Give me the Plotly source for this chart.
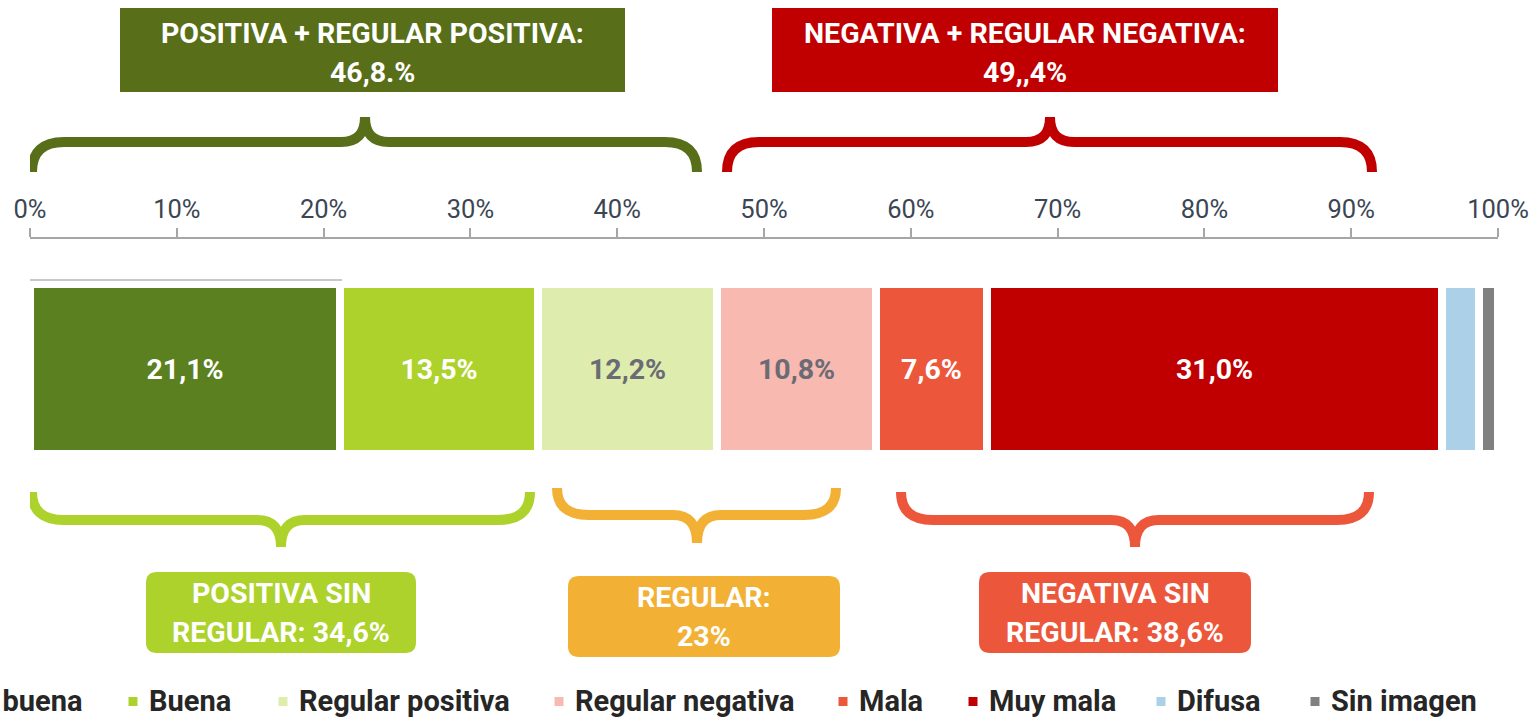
import plotly.graph_objects as go

# ---------------- data ----------------
categories = ["Muy buena", "Buena", "Regular positiva", "Regular negativa",
              "Mala", "Muy mala", "Difusa", "Sin imagen"]
values = [21.1, 13.5, 12.2, 10.8, 7.6, 31.0, 2.5, 1.3]
show_label = [True, True, True, True, True, True, False, False]
tick_vals = [0, 10, 20, 30, 40, 50, 60, 70, 80, 90, 100]
tick_text = [f"{v}%" for v in tick_vals]

group_top_lines = [["POSITIVA + REGULAR POSITIVA:", "46,8.%"],
                   ["NEGATIVA + REGULAR NEGATIVA:", "49,,4%"]]
group_bottom_lines = [["POSITIVA SIN", "REGULAR: 34,6%"],
                      ["REGULAR:", "23%"],
                      ["NEGATIVA SIN", "REGULAR: 38,6%"]]

# ---------------- styles ----------------
bar_colors = ["#5B8020", "#ADD22B", "#DEEDAD", "#F7B9B0",
              "#EC573C", "#C00000", "#ABD0E8", "#808080"]
label_colors = ["white", "white", "#6B6B75", "#6B6B75",
                "white", "white", "white", "white"]
FONT = "Roboto, sans-serif"
W, H = 1534, 717
L_PX, R_PX = 30, 1498
PX_PER_PCT = (R_PX - L_PX) / 100.0


def X(px):
    return (px - L_PX) / PX_PER_PCT


fig = go.Figure()
for name, v, c, lc, sl in zip(categories, values, bar_colors, label_colors, show_label):
    txt = (f"{v:.1f}".replace(".", ",") + "%") if sl else ""
    fig.add_trace(go.Bar(
        y=[369], x=[v], name=name, orientation="h", width=170,
        marker=dict(color=c, line=dict(color="white", width=8)),
        text=[txt], textposition="inside", insidetextanchor="middle",
        textangle=0, constraintext="none",
        textfont=dict(family=FONT, size=28.5, color=lc, weight="bold"),
        showlegend=False, hoverinfo="skip",
    ))

shapes = []
annotations = []


def brace(x0, x1, xc, yb, yh, yt, r_end, r_tip, color):
    p = (f"M {X(x0)},{yb} Q {X(x0)},{yh} {X(x0 + r_end)},{yh} "
         f"L {X(xc - r_tip)},{yh} Q {X(xc)},{yh} {X(xc)},{yt} "
         f"Q {X(xc)},{yh} {X(xc + r_tip)},{yh} "
         f"L {X(x1 - r_end)},{yh} Q {X(x1)},{yh} {X(x1)},{yb}")
    shapes.append(dict(type="path", path=p, xref="x", yref="y",
                       line=dict(color=color, width=10), layer="above"))


def rounded(x0, y0, x1, y1, r, color):
    p = (f"M {X(x0 + r)},{y0} L {X(x1 - r)},{y0} Q {X(x1)},{y0} {X(x1)},{y0 + r} "
         f"L {X(x1)},{y1 - r} Q {X(x1)},{y1} {X(x1 - r)},{y1} "
         f"L {X(x0 + r)},{y1} Q {X(x0)},{y1} {X(x0)},{y1 - r} "
         f"L {X(x0)},{y0 + r} Q {X(x0)},{y0} {X(x0 + r)},{y0} Z")
    shapes.append(dict(type="path", path=p, xref="x", yref="y",
                       fillcolor=color, line=dict(width=0), layer="above"))


def text(xpx, ypx, s, size, color, bold=True, anchor="center"):
    annotations.append(dict(x=X(xpx), y=ypx, xref="x", yref="y", text=s,
                            showarrow=False, xanchor=anchor, yanchor="middle",
                            font=dict(family=FONT, size=size, color=color,
                                      weight="bold" if bold else "normal")))


# top boxes
top_boxes = [(120, 625, "#586E18"), (772, 1278, "#C00000")]
for (x0, x1, c), lines in zip(top_boxes, group_top_lines):
    shapes.append(dict(type="rect", xref="x", yref="y", x0=X(x0), x1=X(x1),
                       y0=8, y1=92, fillcolor=c, line=dict(width=0), layer="above"))
    cx = (x0 + x1) / 2
    text(cx, 33, lines[0], 28.5, "white")
    text(cx, 72, lines[1], 28.5, "white")

# top braces
brace(32, 697, 365, 172, 142, 117, 32, 24, "#586E18")
brace(727, 1372, 1050, 172, 142, 117, 32, 24, "#C00000")

# bottom braces
brace(32, 530, 281, 492, 520, 547, 32, 24, "#ADD22B")
brace(557, 836, 697, 488, 515, 543, 32, 24, "#F2B035")
brace(901, 1369, 1135, 492, 520, 547, 32, 24, "#EC573C")

# bottom boxes
bottom_boxes = [(146, 416, 572, 653, "#ADD22B"), (568, 840, 576, 657, "#F2B035"),
                (979, 1251, 572, 653, "#EC573C")]
for (x0, x1, y0, y1, c), lines in zip(bottom_boxes, group_bottom_lines):
    rounded(x0, y0, x1, y1, 11, c)
    cx = (x0 + x1) / 2
    cy = (y0 + y1) / 2
    text(cx, cy - 19, lines[0], 28.5, "white")
    text(cx, cy + 20, lines[1], 28.5, "white")

# thin grey line above first segment
shapes.append(dict(type="line", xref="x", yref="y", x0=X(29), x1=X(342), y0=280, y1=280,
                   line=dict(color="#C8C8C8", width=2), layer="above"))

# legend (manual, first entry partly cut off as in the reference)
legend_text_left = [None, 147, 297, 573, 857, 987, 1175, 1329]
for name, c, tl in zip(categories, bar_colors, legend_text_left):
    if tl is None:
        text(84, 701, name, 29, "#262626", anchor="right")
        continue
    mx = tl - 14
    shapes.append(dict(type="rect", xref="x", yref="y", x0=X(mx - 4.5), x1=X(mx + 4.5),
                       y0=697, y1=706, fillcolor=c, line=dict(width=0), layer="above"))
    text(tl, 701, name, 29, "#262626", anchor="left")

fig.update_layout(
    width=W, height=H, barmode="stack", bargap=0,
    plot_bgcolor="white", paper_bgcolor="white",
    margin=dict(l=L_PX, r=W - R_PX, t=0, b=0, pad=0, autoexpand=False),
    xaxis=dict(range=[0, 100], side="top", anchor="free", position=1 - 238 / H,
               showgrid=False, zeroline=False, showline=True, linecolor="#A6A6A6",
               linewidth=1.5, ticks="outside", ticklen=9, tickcolor="#A6A6A6",
               tickwidth=1.5, tickvals=tick_vals, ticktext=tick_text,
               tickfont=dict(family=FONT, size=25.5, color="#3B4654"),
               automargin=False, fixedrange=True),
    yaxis=dict(range=[H, 0], visible=False, fixedrange=True, automargin=False),
    shapes=shapes, annotations=annotations, showlegend=False,
)

fig.write_html("out.html", config={"displayModeBar": False},
               post_script="document.body.style.margin='0';document.body.style.overflow='hidden';")
